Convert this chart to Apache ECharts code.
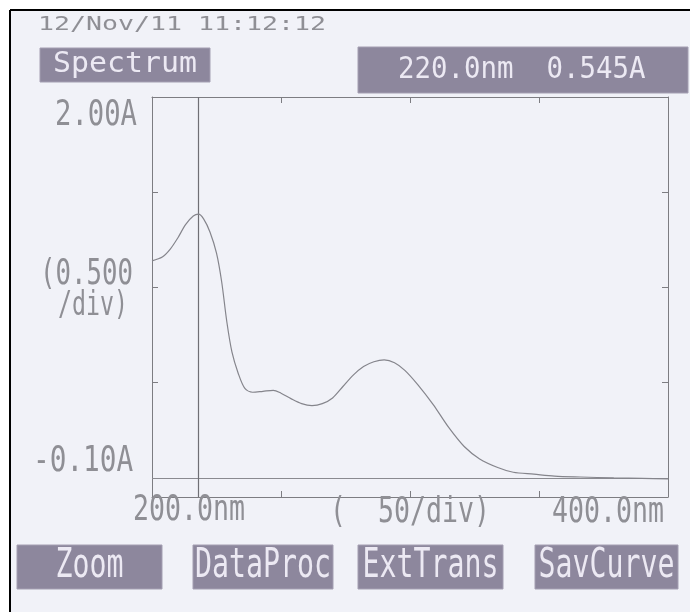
<!DOCTYPE html>
<html>
<head>
<meta charset="utf-8">
<script src="https://cdn.jsdelivr.net/npm/echarts@6/dist/echarts.min.js"></script>
<style>
html,body{margin:0;padding:0;background:#ffffff;}
#chart{width:690px;height:612px;}
</style>
</head>
<body>
<div id="chart"></div>
<script>
// ---- data ----
const wavelengths = [200,204,207,210,213,216,218,220,222.5,225,227,229,231,233.4,236,239,243,247,250,254,258,262,266,270,274,278,282,286,290,294,298,303,309,315,321,327,334,340,348,356,366,379,390,400];
const absorbance  = [1.14,1.16,1.20,1.26,1.33,1.375,1.385,1.36,1.29,1.18,1.03,0.82,0.66,0.55,0.47,0.45,0.455,0.46,0.445,0.415,0.39,0.38,0.39,0.42,0.48,0.54,0.585,0.61,0.62,0.605,0.565,0.49,0.385,0.265,0.165,0.10,0.055,0.03,0.02,0.01,0.005,0.0,-0.002,-0.005];
const cursorNm = 218;
const yTicks = [0.5, 1.0, 1.5];
const xTicks = [250, 300, 350];
const headerText = "12/Nov/11 11:12:12";
const modeText = "Spectrum";
const readoutText = "220.0nm  0.545A";
const yTopLabel = "2.00A";
const yMidLabel = ["(0.500", "/div)"];
const yBottomLabel = "-0.10A";
const xLeftLabel = "200.0nm";
const xMidLabel = "(  50/div)";
const xRightLabel = "400.0nm";
const buttons = ["Zoom", "DataProc", "ExtTrans", "SavCurve"];

const FONT = '"DejaVu Sans Mono", monospace';
const seriesData = wavelengths.map((w, i) => [w, absorbance[i]]);

function txt(str, x, y, fs, charW, color, align) {
  const sx = charW / (0.602 * fs);
  const wpx = str.length * charW;
  let left = x;
  if (align === 'center') left = x - wpx / 2;
  return {
    type: 'text', x: left, y: y, scaleX: sx, scaleY: 1, silent: true, z: 20,
    style: { text: str, x: 0, y: 0, fill: color, font: 'normal ' + fs + 'px ' + FONT, textAlign: 'left', textVerticalAlign: 'middle' }
  };
}
function box(x, y, w, h) {
  return { type: 'rect', shape: { x: x, y: y, width: w, height: h }, silent: true, z: 10,
    style: { fill: '#8d879d', stroke: '#a49fb2', lineWidth: 1 } };
}
const labelGray = '#8f8f95';
const boxText = '#ece9f3';

const graphic = [
  { type: 'rect', shape: { x: 10, y: 10, width: 680, height: 602 }, silent: true, z: 0, style: { fill: '#f1f2f8' } },
  { type: 'line', shape: { x1: 10, y1: 10, x2: 690, y2: 10 }, silent: true, z: 30, style: { stroke: '#000', lineWidth: 2 } },
  { type: 'line', shape: { x1: 10, y1: 10, x2: 10, y2: 612 }, silent: true, z: 30, style: { stroke: '#000', lineWidth: 2 } },
  txt(headerText, 38, 25, 20, 16, labelGray),
  box(40, 48, 170, 34),
  txt(modeText, 125, 65, 28, 18, boxText, 'center'),
  box(358, 47, 330, 46),
  txt(readoutText, 398, 70, 30, 16.5, boxText),
  txt(yTopLabel, 55, 116, 36, 16.4, labelGray),
  txt(yMidLabel[0], 40, 275, 36, 15.5, labelGray),
  txt(yMidLabel[1], 58, 306, 34, 14, labelGray),
  txt(yBottomLabel, 33, 462, 36, 16.7, labelGray),
  txt(xLeftLabel, 133, 511, 36, 16, labelGray),
  txt(xMidLabel, 330, 513, 36, 16, labelGray),
  txt(xRightLabel, 552, 513, 36, 16, labelGray)
];
const btnX = [[17,145],[193,140],[358,145],[535,143]];
buttons.forEach((b, i) => {
  graphic.push(box(btnX[i][0], 545, btnX[i][1], 44));
  graphic.push(txt(b, btnX[i][0] + btnX[i][1] / 2, 567, 40, 17, boxText, 'center'));
});

const axisLineStyle = { color: '#7d7d82', width: 1 };
function xAx(pos) {
  return { type: 'value', position: pos, min: 200, max: 400, interval: 50,
    axisLine: { show: true, onZero: false, lineStyle: axisLineStyle },
    axisTick: { show: true, inside: true, length: 6, customValues: xTicks, lineStyle: axisLineStyle },
    axisLabel: { show: false }, splitLine: { show: false } };
}
function yAx(pos) {
  return { type: 'value', position: pos, min: -0.1, max: 2.0,
    axisLine: { show: true, onZero: false, lineStyle: axisLineStyle },
    axisTick: { show: true, inside: true, length: 6, customValues: yTicks, lineStyle: axisLineStyle },
    axisLabel: { show: false }, splitLine: { show: false } };
}

const chart = echarts.init(document.getElementById('chart'), null, { renderer: 'canvas' });
chart.setOption({
  animation: false,
  backgroundColor: '#ffffff',
  graphic: graphic,
  grid: { left: 152, right: 22, top: 97, bottom: 115, containLabel: false },
  xAxis: [xAx('bottom'), xAx('top')],
  yAxis: [yAx('left'), yAx('right')],
  series: [{
    type: 'line', data: seriesData, smooth: 0.3, showSymbol: false, z: 5,
    lineStyle: { color: '#85858c', width: 1.2 },
    markLine: {
      silent: true, symbol: ['none', 'none'], label: { show: false },
      lineStyle: { color: '#8a8a90', width: 1, type: 'solid' },
      data: [ { yAxis: 0 }, { xAxis: cursorNm, lineStyle: { color: '#6f6f75', width: 1.2 } } ]
    }
  }]
});
</script>
</body>
</html>
